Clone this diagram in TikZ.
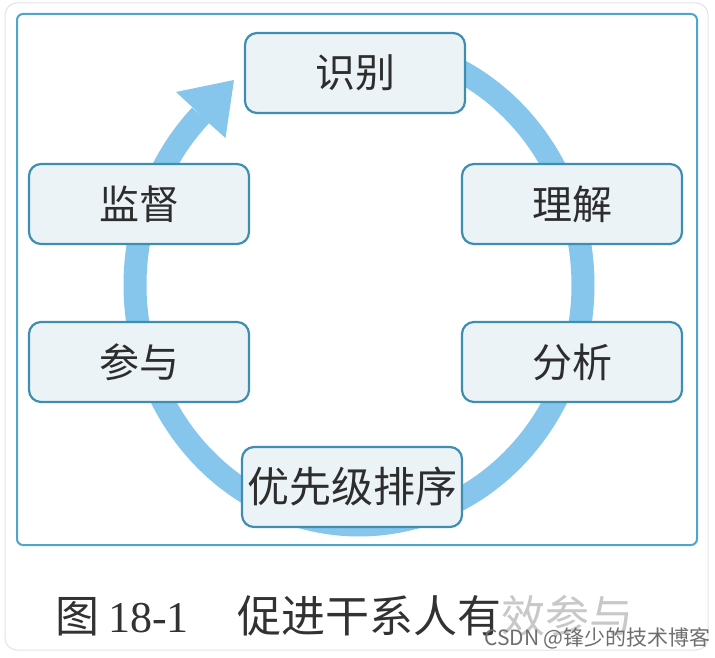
\documentclass[tikz,border=0pt]{standalone}
\usepackage{fontspec}
\newfontfamily\cjk{Noto Sans CJK SC}
\newfontfamily\capdigits{Liberation Serif}
\usetikzlibrary{arrows.meta}
\definecolor{arccol}{RGB}{135,198,236}
\definecolor{boxline}{RGB}{62,142,178}
\definecolor{boxfill}{RGB}{236,243,247}
\definecolor{framecol}{RGB}{80,165,205}
\definecolor{cardcol}{RGB}{228,228,228}
\definecolor{txtcol}{RGB}{45,45,45}
\definecolor{captxt}{RGB}{50,50,50}
\definecolor{fadedcol}{RGB}{200,200,200}
\definecolor{wmcol}{RGB}{110,110,110}
\begin{document}
\begin{tikzpicture}[x=1pt,y=-1pt,
  box/.style={draw=boxline, line width=2.2pt, fill=boxfill, rounded corners=12pt,
    minimum width=220pt, minimum height=80pt, inner sep=0pt,
    font=\cjk\fontsize{40}{40}\selectfont, text=txtcol},
  cyclearc/.style={draw=arccol, line width=23pt},
]
\useasboundingbox (0,0) rectangle (715,658);
\fill[white] (0,0) rectangle (715,658);
\draw[cardcol, line width=1pt, rounded corners=12pt] (5,3) rectangle (708,650);
\draw[framecol, line width=2pt, rounded corners=6pt] (17,14) rectangle (697,545);
% cycle arrow
\draw[cyclearc] plot[domain=75:-225, samples=150, smooth] ({359+224*cos(\x)},{285-240*sin(\x)});
\fill[arccol] (234,80) -- (176,92) -- (196.5,111) -- (202,117) -- (225.5,138) -- cycle;
% boxes
\node[box] (shibie) at (355,73) {识别};
\node[box] (lijie) at (572,204) {理解};
\node[box] (fenxi) at (572,362) {分析};
\node[box, font=\cjk\fontsize{42}{42}\selectfont] (youxian) at (352,487) {优先级排序};
\node[box] (canyu) at (139,362) {参与};
\node[box] (jiandu) at (139,204) {监督};
% caption
\node[anchor=west, inner sep=0pt, text=captxt, font=\cjk\fontsize{44}{44}\selectfont] (caption) at (55,616)
  {图\hspace{0.2em}{\capdigits 18-1}\hspace{1.1em}促进干系人有\textcolor{fadedcol}{效参与}};
\node[anchor=east, inner sep=0pt, text=wmcol, font=\cjk\fontsize{21}{21}\selectfont] (watermark) at (711,638)
  {CSDN @锋少的技术博客};
\end{tikzpicture}
\end{document}
